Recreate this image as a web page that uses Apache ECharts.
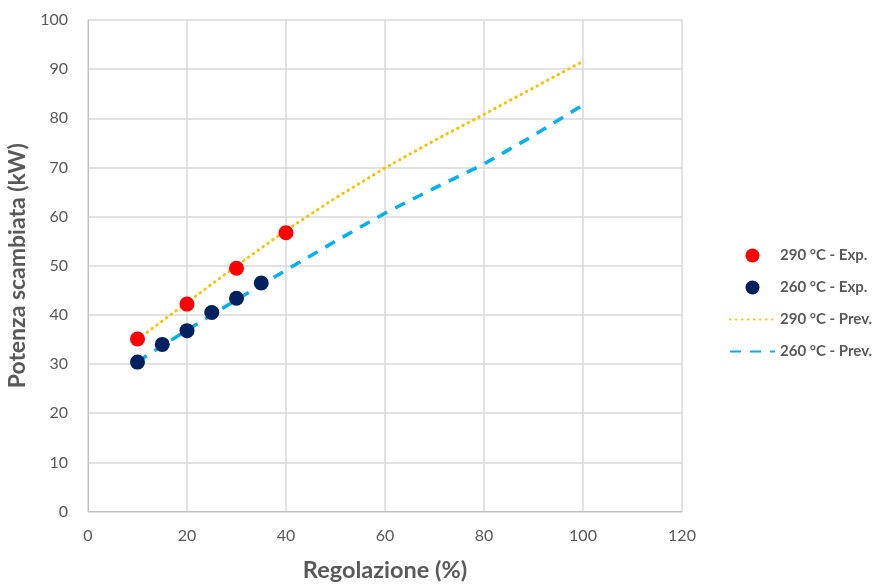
<!DOCTYPE html>
<html><head><meta charset="utf-8">
<script src="https://cdn.jsdelivr.net/npm/echarts@6/dist/echarts.min.js"></script>
<style>html,body{margin:0;padding:0;background:#fff}#c{width:875px;height:584px}</style>
</head><body><div id="c"></div>
<script>
const exp290X = [10, 20, 30, 40];
const exp290Y = [35.1, 42.2, 49.5, 56.7];
const exp260X = [10, 15, 20, 25, 30, 35];
const exp260Y = [30.4, 34.0, 36.8, 40.5, 43.4, 46.5];
const prevX = [10, 20, 30, 40, 50, 60, 70, 80, 90, 100];
const prev290Y = [35.0, 42.5, 50.0, 57.2, 63.8, 69.9, 75.5, 80.8, 86.2, 91.6];
const prev260Y = [30.5, 36.9, 43.1, 49.1, 55.0, 60.7, 65.8, 70.7, 76.5, 82.7];
const names = ['290 °C - Exp.', '260 °C - Exp.', '290 °C - Prev.', '260 °C - Prev.'];
const zip = (a, b) => a.map((v, i) => [v, b[i]]);
const FONT = 'Lato';
const chart = echarts.init(document.getElementById('c'), null, {renderer: 'canvas'});
chart.setOption({
  animation: false,
  textStyle: {fontFamily: FONT},
  grid: {left: 88, right: 193, top: 20, bottom: 72.5, containLabel: false, outerBoundsMode: 'none'},
  legend: {
    orient: 'vertical', left: 724, top: 243, itemGap: 17, itemWidth: 45, itemHeight: 14,
    textStyle: {fontFamily: FONT, fontSize: 15, fontWeight: 'bold', color: '#595959'},
    data: [
      {name: names[0]},
      {name: names[1]},
      {name: names[2], itemStyle: {opacity: 0}},
      {name: names[3], itemStyle: {opacity: 0}}
    ]
  },
  xAxis: {
    type: 'value', min: 0, max: 120, interval: 20,
    name: 'Regolazione (%)', nameLocation: 'middle', nameGap: 47,
    nameTextStyle: {fontFamily: FONT, fontSize: 23.5, fontWeight: 'bold', color: '#595959'},
    axisLine: {show: true, lineStyle: {color: '#bfbfbf', width: 1}},
    axisTick: {show: false},
    axisLabel: {fontFamily: FONT, fontSize: 16, color: '#595959', margin: 16},
    splitLine: {show: true, lineStyle: {color: '#d9d9d9', width: 1.5}}
  },
  yAxis: {
    type: 'value', min: 0, max: 100, interval: 10,
    name: 'Potenza scambiata (kW)', nameLocation: 'middle', nameGap: 58,
    nameTextStyle: {fontFamily: FONT, fontSize: 23, fontWeight: 'bold', color: '#595959'},
    axisLine: {show: true, lineStyle: {color: '#bfbfbf', width: 1}},
    axisTick: {show: false},
    axisLabel: {fontFamily: FONT, fontSize: 16, color: '#595959', margin: 20},
    splitLine: {show: true, lineStyle: {color: '#d9d9d9', width: 1.5}}
  },
  series: [
    {name: names[2], type: 'line', data: zip(prevX, prev290Y), showSymbol: false, symbol: 'none', z: 1,
     lineStyle: {color: '#ffc000', width: 3, type: [0.5, 5.5], cap: 'round'}, itemStyle: {color: '#ffc000'}},
    {name: names[3], type: 'line', data: zip(prevX, prev260Y), showSymbol: false, symbol: 'none', z: 1,
     lineStyle: {color: '#00b0f0', width: 3.5, type: [11, 9]}, itemStyle: {color: '#00b0f0'}},
    {name: names[0], type: 'scatter', data: zip(exp290X, exp290Y), symbolSize: 15, z: 3,
     itemStyle: {color: '#ff0000', opacity: 1}},
    {name: names[1], type: 'scatter', data: zip(exp260X, exp260Y), symbolSize: 15, z: 3,
     itemStyle: {color: '#002060', opacity: 1}}
  ]
});
</script></body></html>
